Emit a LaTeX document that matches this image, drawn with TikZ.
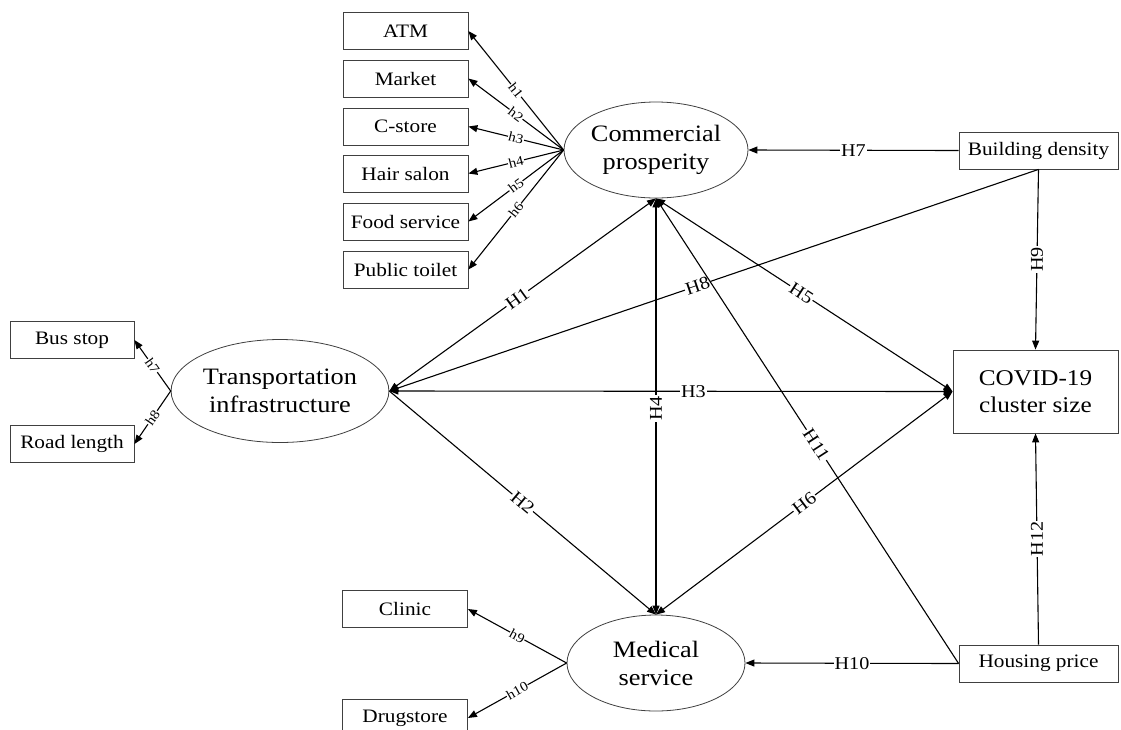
\documentclass[tikz,border=0pt]{standalone}
\usepackage{fontspec}
\setmainfont{Liberation Serif}[FakeStretch=1.12]
\usetikzlibrary{shapes.geometric,arrows.meta}
\begin{document}
\begin{tikzpicture}[x=1pt,y=-1pt,
 box/.style={draw=black!75, line width=0.8pt, minimum width=125pt, minimum height=37pt, inner sep=0pt, font=\fontsize{19}{21}\selectfont},
 lat/.style={ellipse, draw=black!75, line width=0.8pt, inner sep=0pt, align=center, font=\fontsize{23.5}{28}\selectfont},
 arr/.style={line width=1.1pt, -{Triangle[length=9pt,width=7pt]}},
 barr/.style={line width=1.1pt, {Triangle[length=9pt,width=7pt]}-{Triangle[length=9pt,width=7pt]}},
 hl/.style={fill=white, inner sep=1pt, font=\fontsize{18}{18}\selectfont},
 sl/.style={fill=white, inner sep=0.5pt, sloped, font=\fontsize{13.5}{13.5}\selectfont}]
\clip (0,0) rectangle (1121,729);
\fill[white] (0,0) rectangle (1121,729);
% latent variables
\node[lat, minimum width=178pt, minimum height=96pt] (com) at (656,150) {Commercial\\prosperity};
\node[lat, minimum width=210pt, minimum height=103pt] (tra) at (280,391) {Transportation\\infrastructure};
\node[lat, minimum width=178pt, minimum height=96pt] (med) at (656,663) {Medical\\service};
% indicator boxes
\node[box] (atm) at (405.5,31) {ATM};
\node[box] (mkt) at (405.5,78.5) {Market};
\node[box] (cst) at (405.5,126.5) {C-store};
\node[box] (hair) at (405.5,173.5) {Hair salon};
\node[box] (food) at (405.5,221.5) {Food service};
\node[box] (wc) at (405.5,269.5) {Public toilet};
\node[box, minimum width=124pt] (bus) at (72,340) {Bus stop};
\node[box, minimum width=124pt] (road) at (72,444) {Road length};
\node[box] (cli) at (405,609) {Clinic};
\node[box] (drug) at (405,718) {Drugstore};
% right boxes
\node[box, minimum width=159pt] (bd) at (1038.5,150.5) {Building density};
\node[box, minimum width=165pt, minimum height=83pt, align=center, font=\fontsize{22.5}{27}\selectfont] (cov) at (1035.5,391.5) {COVID-19\\cluster size};
\node[box, minimum width=159pt] (hp) at (1038.5,663.5) {Housing price};
% indicator arrows
\draw[arr] (com.west) -- node[sl]{h1} (atm.east);
\draw[arr] (com.west) -- node[sl]{h2} (mkt.east);
\draw[arr] (com.west) -- node[sl]{h3} (cst.east);
\draw[arr] (com.west) -- node[sl]{h4} (hair.east);
\draw[arr] (com.west) -- node[sl]{h5} (food.east);
\draw[arr] (com.west) -- node[sl]{h6} (wc.east);
\draw[arr] (tra.west) -- node[sl]{h7} (bus.east);
\draw[arr] (tra.west) -- node[sl]{h8} (road.east);
\draw[arr] (med.west) -- node[sl]{h9} (cli.east);
\draw[arr] (med.west) -- node[sl]{h10} (drug.east);
% hypotheses
\draw[barr] (tra.east) -- node[hl, sloped, pos=0.48]{H1} (com.south);
\draw[arr] (tra.east) -- node[hl, sloped, pos=0.5]{H2} (med.north);
\draw[barr] (tra.east) -- node[hl, pos=0.54]{H3} (cov.west);
\draw[barr] (com.south) -- node[hl, rotate=90, pos=0.505]{H4} (med.north);
\draw[barr] (com.south) -- node[hl, sloped, pos=0.49]{H5} (cov.west);
\draw[barr] (med.north) -- node[hl, sloped, pos=0.5]{H6} (cov.west);
\draw[arr] (bd.west) -- node[hl]{H7} (com.east);
\draw[arr] (bd.south) -- node[hl, sloped, pos=0.525]{H8} (tra.east);
\draw[arr] (bd.south) -- node[hl, rotate=90, pos=0.5]{H9} (cov.north);
\draw[arr] (hp.west) -- node[hl]{H10} (med.east);
\draw[arr] (hp.west) -- node[hl, sloped, pos=0.47]{H11} (com.south);
\draw[arr] (hp.north) -- node[hl, rotate=90, pos=0.5]{H12} (cov.south);
\end{tikzpicture}
\end{document}
